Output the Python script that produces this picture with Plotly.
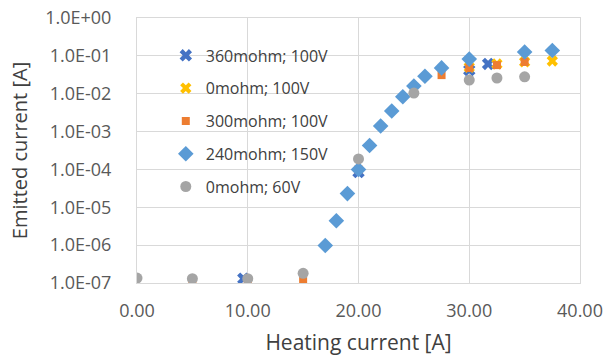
import plotly.graph_objects as go

x_360 = [9.6, 20.0, 30.0, 31.7]
y_360 = [1.3e-7, 8.5e-5, 4.2e-2, 6.1e-2]

x_0_100 = [30.0, 32.5, 35.0, 37.5]
y_0_100 = [5.0e-2, 6.1e-2, 6.9e-2, 7.3e-2]

x_300 = [5.0, 10.0, 15.0, 20.0, 27.5, 30.0, 32.5, 35.0]
y_300 = [1.0e-7, 1.2e-7, 1.15e-7, 1.0e-4, 3.1e-2, 4.8e-2, 5.7e-2, 6.9e-2]

x_240 = [17.0, 18.0, 19.0, 20.0, 21.0, 22.0, 23.0, 24.0, 25.0, 26.0, 27.5, 30.0, 35.0, 37.5]
y_240 = [9.8e-7, 4.4e-6, 2.3e-5, 1.0e-4, 4.3e-4, 1.4e-3, 3.5e-3, 8.3e-3, 1.6e-2, 2.9e-2, 4.8e-2, 8.2e-2, 1.26e-1, 1.38e-1]

x_0_60 = [0.0, 5.0, 10.0, 15.0, 20.0, 25.0, 30.0, 32.5, 35.0]
y_0_60 = [1.35e-7, 1.3e-7, 1.3e-7, 1.8e-7, 1.9e-4, 1.04e-2, 2.3e-2, 2.6e-2, 2.8e-2]

y_tick_vals = [1e-7, 1e-6, 1e-5, 1e-4, 1e-3, 1e-2, 1e-1, 1e0]
y_tick_text = ["1.0E-07", "1.0E-06", "1.0E-05", "1.0E-04", "1.0E-03", "1.0E-02", "1.0E-01", "1.0E+00"]
x_tick_vals = [0, 10, 20, 30, 40]
x_tick_text = ["0.00", "10.00", "20.00", "30.00", "40.00"]

FONT = "Open Sans"
fig = go.Figure()

def add(xs, ys, name, symbol, color, size, group):
    fig.add_trace(go.Scatter(
        x=xs, y=ys, mode="markers", name=name, legendgroup=group,
        marker=dict(symbol=symbol, color=color, size=size, line=dict(width=0)),
    ))

add(x_360, y_360, "360mohm; 100V", "x", "#4472C4", 11, "a")
add(x_0_100, y_0_100, "0mohm; 100V", "x", "#FFC000", 10, "b")
add(x_300, y_300, "300mohm; 100V", "square", "#ED7D31", 8, "c")
add(x_240, y_240, "240mohm; 150V", "diamond", "#5B9BD5", 12, "d")
add(x_0_60, y_0_60, "0mohm; 60V", "circle", "#A5A5A5", 11, "e")

fig.update_layout(
    width=606, height=356,
    margin=dict(l=137, r=26, t=18, b=73),
    paper_bgcolor="white", plot_bgcolor="white",
    font=dict(family=FONT, color="#595959", size=18),
    legend=dict(x=0.065, y=0.923, xanchor="left", yanchor="top",
                bgcolor="rgba(0,0,0,0)", tracegroupgap=9,
                font=dict(family=FONT, size=16, color="#404040"),
                itemsizing="trace"),
    showlegend=True,
    hovermode=False,
)
fig.update_xaxes(
    range=[0, 40], tickvals=x_tick_vals, ticktext=x_tick_text,
    showgrid=True, gridcolor="#D9D9D9", gridwidth=1,
    showline=True, linecolor="#D9D9D9", linewidth=1, mirror=True,
    zeroline=False, ticks="outside", ticklen=11, tickcolor="rgba(0,0,0,0)",
    automargin=False, tickfont=dict(size=18), ticklabeloverflow="allow",
    title=dict(text="Heating current [A]", font=dict(family=FONT, size=21, color="#404040"), standoff=14),
)
fig.update_yaxes(
    type="log", range=[-7, 0], tickvals=y_tick_vals, ticktext=y_tick_text,
    showgrid=True, gridcolor="#D9D9D9", gridwidth=1,
    showline=True, linecolor="#D9D9D9", linewidth=1, mirror=True,
    zeroline=False, ticks="outside", ticklen=21, tickcolor="rgba(0,0,0,0)",
    automargin=False, tickfont=dict(size=18), ticklabeloverflow="allow",
    title=dict(text="Emitted current [A]", font=dict(family=FONT, size=20, color="#404040"), standoff=12),
)
# remove the page's default 8px body margin so the figure fills the window exactly
fig.write_html("out.html", config={"displayModeBar": False},
               post_script="document.body.style.margin='0px';")
